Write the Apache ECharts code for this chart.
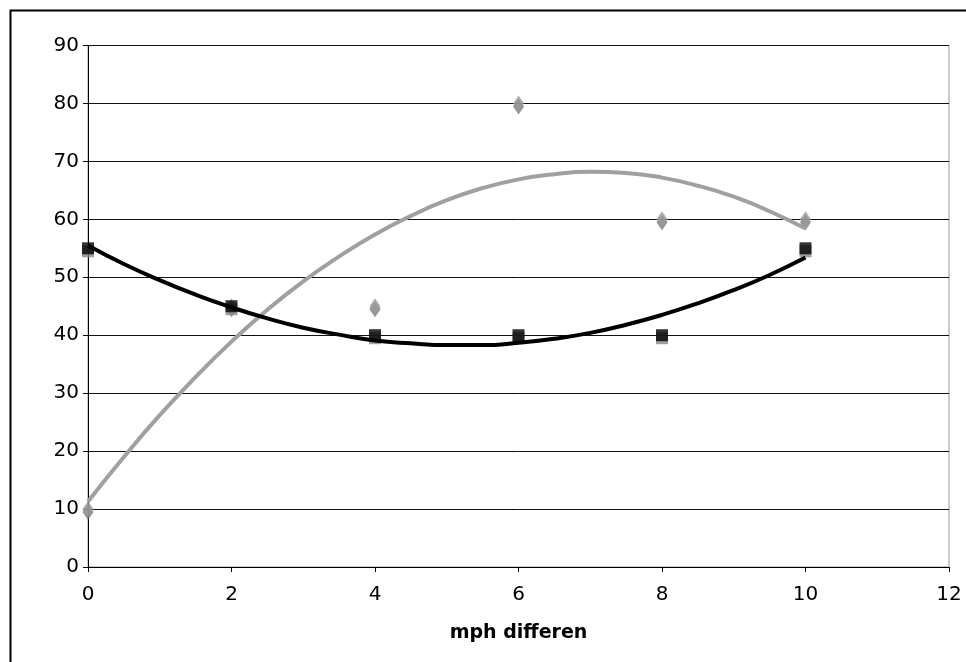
<!DOCTYPE html>
<html><head><meta charset="utf-8">
<script src="https://cdn.jsdelivr.net/npm/echarts@6/dist/echarts.min.js"></script>
<style>html,body{margin:0;padding:0;background:#fff}#c{width:966px;height:662px}</style>
</head><body><div id="c"></div>
<script>
var xValues = [0, 2, 4, 6, 8, 10];
var graySeries = [10, 45, 45, 80, 60, 60];
var blackSeries = [55, 45, 40, 40, 40, 55];
// trend lines (quadratic), values at x = 0..10 step 0.5
var trendX = [0, 0.5, 1, 1.5, 2, 2.5, 3, 3.5, 4, 4.5, 5, 5.5, 6, 6.5, 7, 7.5, 8, 8.5, 9, 9.5, 10];
var grayTrend = [11.3, 19.0, 26.2, 32.8, 38.9, 44.4, 49.3, 53.6, 57.4, 60.6, 63.3, 65.4, 66.9, 67.8, 68.2, 68.0, 67.2, 65.8, 63.9, 61.4, 58.4];
var blackTrend = [55.5, 52.3, 49.5, 47.0, 44.8, 42.9, 41.3, 40.1, 39.1, 38.6, 38.3, 38.3, 38.7, 39.4, 40.4, 41.8, 43.5, 45.5, 47.8, 50.4, 53.4];
var xTitle = 'mph differen';

function pairs(xs, ys){ return xs.map(function(x,i){ return [x, ys[i]]; }); }

var chart = echarts.init(document.getElementById('c'));
var font = 'DejaVu Sans, Verdana, sans-serif';
chart.setOption({
  animation: false,
  backgroundColor: '#fff',
  graphic: [{
    type: 'rect', left: 8, top: 8, silent: true,
    shape: { width: 970, height: 670 },
    style: { fill: 'none', stroke: '#000', lineWidth: 2 }
  }],
  grid: { left: 88, right: 17, top: 45.5, bottom: 95, show: true, borderColor: '#999', borderWidth: 1, backgroundColor: 'transparent' },
  xAxis: {
    type: 'value', min: 0, max: 12, interval: 2,
    name: xTitle, nameLocation: 'middle', nameGap: 57,
    nameTextStyle: { fontFamily: font, fontSize: 19, fontWeight: 'bold', color: '#000' },
    axisLine: { show: true, lineStyle: { color: '#000', width: 1 } },
    axisTick: { show: true, inside: false, length: 5, lineStyle: { color: '#000' } },
    axisLabel: { fontFamily: font, fontSize: 20, color: '#000', margin: 18 },
    splitLine: { show: false }
  },
  yAxis: {
    type: 'value', min: 0, max: 90, interval: 10,
    axisLine: { show: true, lineStyle: { color: '#000', width: 1 } },
    axisTick: { show: true, inside: false, length: 5, lineStyle: { color: '#000' } },
    axisLabel: { fontFamily: font, fontSize: 20, color: '#000', margin: 9 },
    splitLine: { show: true, lineStyle: { color: '#111', width: 1 } }
  },
  series: [
    {
      type: 'scatter', name: 'gray', data: pairs(xValues, graySeries), z: 2,
      symbol: 'diamond', symbolSize: [11, 16],
      itemStyle: { color: '#9a9a9a', shadowColor: '#7a7a7a', shadowOffsetY: 3, shadowBlur: 0 },
      emphasis: { disabled: true }
    },
    {
      type: 'scatter', name: 'black', data: pairs(xValues, blackSeries), z: 3,
      symbol: 'rect', symbolSize: 12,
      itemStyle: { color: '#000', shadowColor: '#888', shadowOffsetY: 3, shadowBlur: 0 },
      emphasis: { disabled: true }
    },
    {
      type: 'line', name: 'grayTrend', data: pairs(trendX, grayTrend), z: 4,
      smooth: true, showSymbol: false, symbol: 'none',
      lineStyle: { color: '#a0a0a0', width: 4 },
      emphasis: { disabled: true }
    },
    {
      type: 'line', name: 'blackTrend', data: pairs(trendX, blackTrend), z: 5,
      smooth: true, showSymbol: false, symbol: 'none',
      lineStyle: { color: '#000', width: 4 },
      emphasis: { disabled: true }
    }
  ]
});
</script></body></html>
